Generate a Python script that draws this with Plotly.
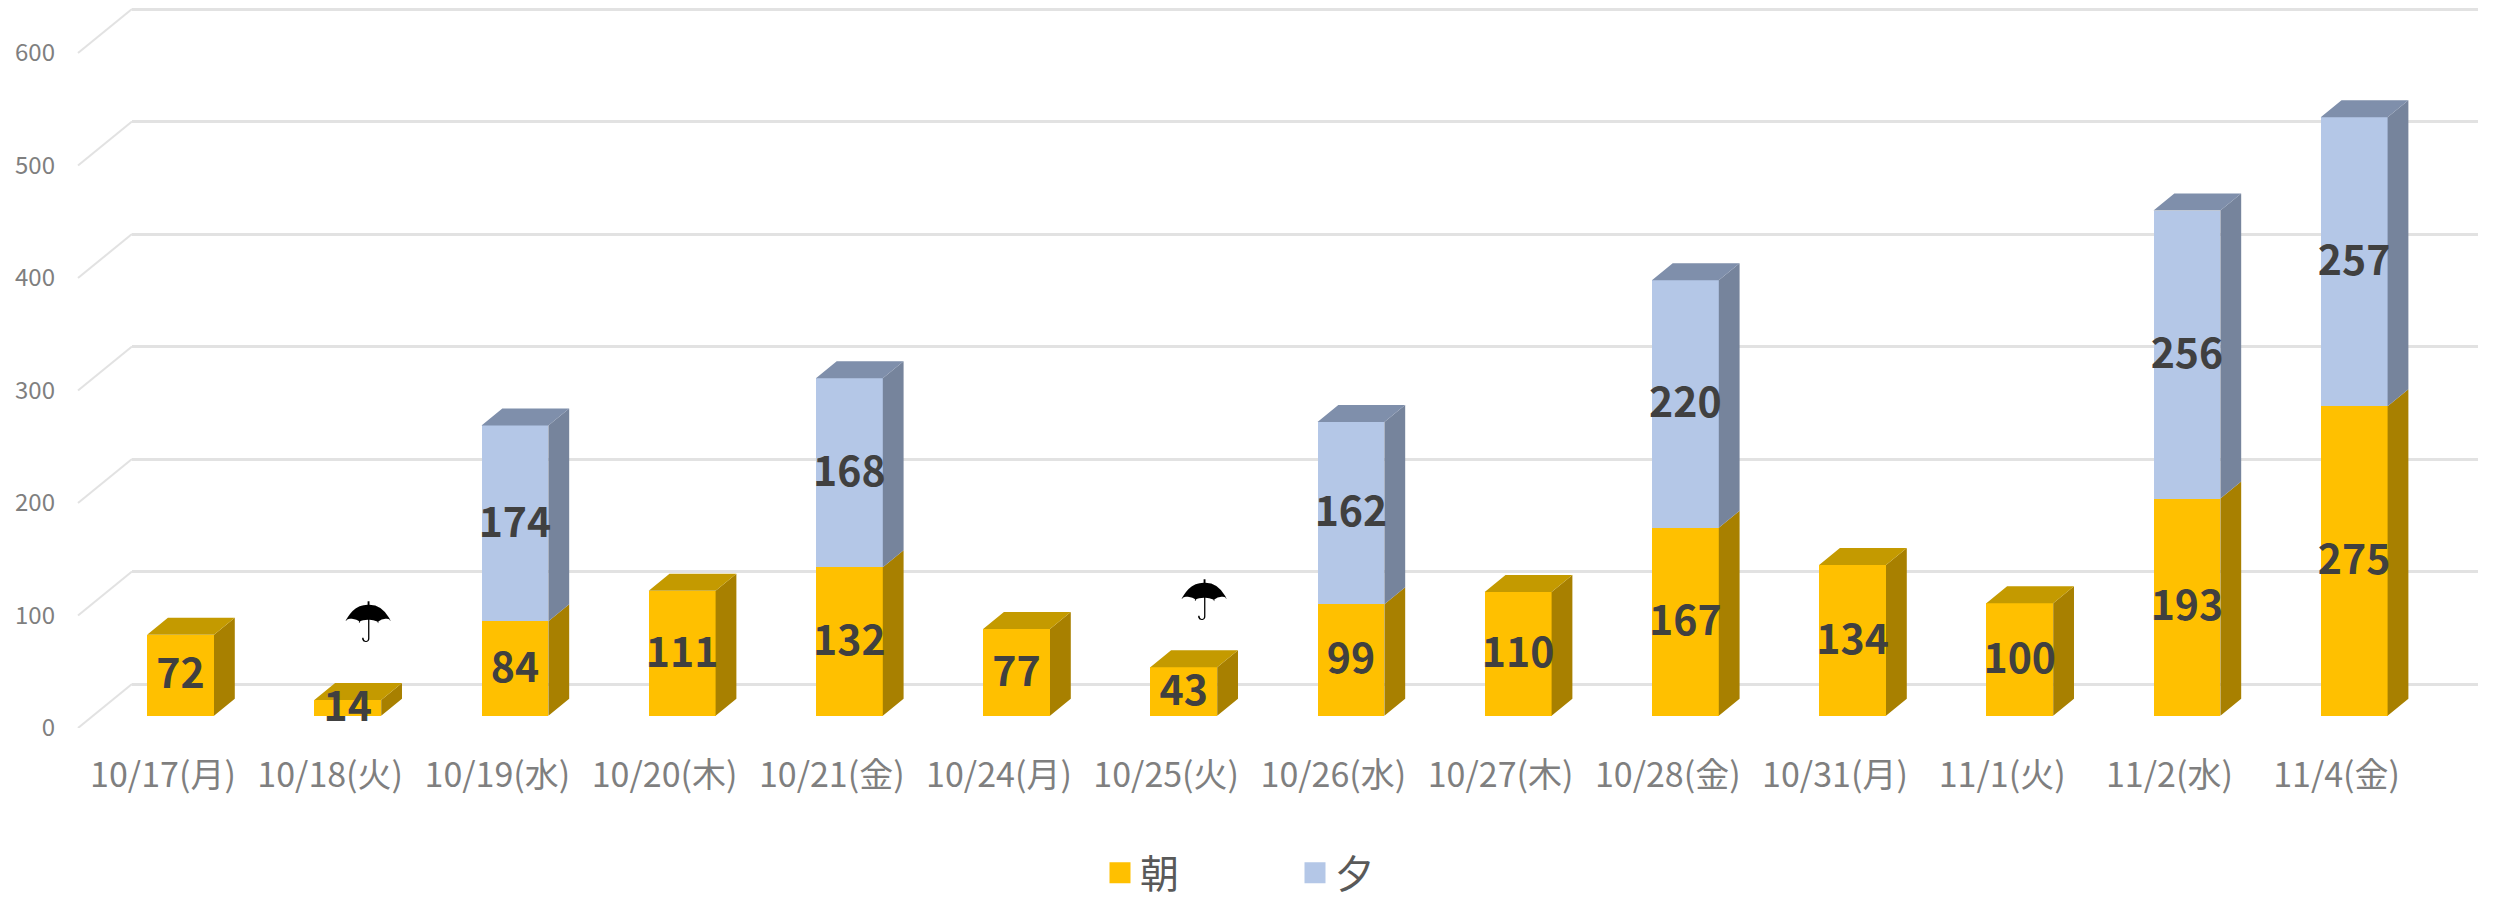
import plotly.graph_objects as go

categories = ["10/17(月)", "10/18(火)", "10/19(水)", "10/20(木)", "10/21(金)", "10/24(月)", "10/25(火)",
              "10/26(水)", "10/27(木)", "10/28(金)", "10/31(月)", "11/1(火)", "11/2(水)", "11/4(金)"]
morning = [72, 14, 84, 111, 132, 77, 43, 99, 110, 167, 134, 100, 193, 275]
evening = [0, 0, 174, 0, 168, 0, 0, 162, 0, 220, 0, 0, 256, 257]
rain_days = [("10/18(火)", 0.12, 68.5), ("10/25(火)", 0.12, 59.5)]

FONT = "Noto Sans CJK JP"
ORANGE, ORANGE_TOP, ORANGE_SIDE = "#FFC000", "#C49A00", "#A88000"
BLUE, BLUE_TOP, BLUE_SIDE = "#B4C7E7", "#7F8FAB", "#76849C"
GRID = "#E2E2E2"

# Oblique projection of the 3D chart, in axis units
W, H, M_L, M_R, M_T, M_B = 2494, 903, 132, 16, 0, 175
PX_X = 167.2                # pixels per category
PX_Y = 1.125                # pixels per unit of value
X0 = (M_L - 163) / PX_X     # left end of the x range
X1 = (W - M_R - 163) / PX_X
FULL_DX, FULL_DY = 54 / PX_X, 44 / PX_Y   # whole floor depth
D_FRONT, D_BACK = 0.28, 0.665             # bar depth within the floor
BAR_SHIFT = 0.105                         # bars sit right of their axis label
BAR_W = 0.40
Y_TOP = (H - M_B) / PX_Y
LABEL_DROP = 2.7            # optical centring of the value labels

x_front = [i + BAR_SHIFT for i in range(len(categories))]
b0 = FULL_DY * D_FRONT
side_dx = FULL_DX * (D_BACK - D_FRONT)
side_dy = FULL_DY * (D_BACK - D_FRONT)


def side_polys(vals, bases):
    xs, ys = [], []
    for xc, v, b in zip(x_front, vals, bases):
        if v <= 0:
            continue
        r = xc + BAR_W / 2
        xs += [r, r + side_dx, r + side_dx, r, r, None]
        ys += [b, b + side_dy, b + v + side_dy, b + v, b, None]
    return xs, ys


def top_polys(tops, keep):
    xs, ys = [], []
    for xc, t, k in zip(x_front, tops, keep):
        if not k:
            continue
        l, r = xc - BAR_W / 2, xc + BAR_W / 2
        xs += [l, r, r + side_dx, l + side_dx, l, None]
        ys += [t, t, t + side_dy, t + side_dy, t, None]
    return xs, ys


base_m = [b0] * len(morning)
base_e = [b0 + m for m in morning]
top_m = [b0 + m for m in morning]
top_e = [b0 + m + e for m, e in zip(morning, evening)]

fig = go.Figure()

# carries the back wall axis with its gridlines
fig.add_trace(go.Scatter(x=[None], y=[None], yaxis="y", showlegend=False, hoverinfo="skip"))

fig.add_trace(go.Bar(x=x_front, y=morning, base=base_m, width=BAR_W, marker=dict(color=ORANGE, line_width=0),
                     yaxis="y2", showlegend=False, name="朝"))
fig.add_trace(go.Bar(x=x_front, y=evening, base=base_e, width=BAR_W, marker=dict(color=BLUE, line_width=0),
                     yaxis="y2", showlegend=False, name="夕"))

for (xs, ys), col in [(side_polys(morning, base_m), ORANGE_SIDE),
                      (side_polys(evening, base_e), BLUE_SIDE),
                      (top_polys(top_m, [e == 0 for e in evening]), ORANGE_TOP),
                      (top_polys(top_e, [e > 0 for e in evening]), BLUE_TOP)]:
    fig.add_trace(go.Scatter(x=xs, y=ys, mode="lines", fill="toself", fillcolor=col, line=dict(width=0, color=col),
                             yaxis="y2", showlegend=False, hoverinfo="skip"))

label_font = dict(family=FONT, size=41, color="#404040", weight="bold")
for vals, bases in [(morning, base_m), (evening, base_e)]:
    pts = [(x, b + v / 2 - LABEL_DROP, v) for x, b, v in zip(x_front, bases, vals) if v > 0]
    fig.add_trace(go.Scatter(x=[p[0] for p in pts], y=[p[1] for p in pts], text=[str(p[2]) for p in pts],
                             mode="text", textposition="middle center", textfont=label_font,
                             yaxis="y2", showlegend=False, cliponaxis=False, hoverinfo="skip"))

# legend entries
for name, col in [("朝", ORANGE), ("夕", BLUE)]:
    fig.add_trace(go.Scatter(x=[None], y=[None], mode="markers", name=name, yaxis="y2",
                             marker=dict(symbol="square", size=16, color=col, line=dict(color=col, width=5))))

# slanted floor and wall lines left of the back wall
paper_dx = FULL_DX * PX_X / (W - M_L - M_R)
shapes = []
for v in range(0, 700, 100):
    shapes.append(dict(type="line", xref="paper", yref="y2", layer="below",
                       x0=-paper_dx, y0=v, x1=0, y1=v + FULL_DY,
                       line=dict(color=GRID, width=2)))

annotations = []
for cat, dx, h in rain_days:
    i = categories.index(cat)
    annotations.append(dict(x=x_front[i] + dx, y=b0 + morning[i] + h, xref="x", yref="y2", text="☂", showarrow=False,
                            font=dict(family="DejaVu Sans", size=56, color="#000000")))

fig.update_layout(
    width=W, height=H, margin=dict(l=M_L, r=M_R, t=M_T, b=M_B, autoexpand=False),
    paper_bgcolor="#FFFFFF", plot_bgcolor="rgba(0,0,0,0)",
    barmode="overlay", bargap=0,
    xaxis=dict(range=[X0, X1], tickmode="array", tickvals=list(range(len(categories))), ticktext=categories,
               showgrid=False, zeroline=False, showline=False, ticks="", ticklabelstandoff=24,
               tickangle=0, tickfont=dict(family=FONT, size=34, color="#7F7F7F")),
    yaxis=dict(range=[-FULL_DY, Y_TOP - FULL_DY], tickmode="array", tickvals=list(range(0, 700, 100)),
               showgrid=True, gridcolor=GRID, gridwidth=3, zeroline=False, showticklabels=False,
               showline=False, ticks=""),
    yaxis2=dict(range=[0, Y_TOP], overlaying="y", side="left", tickmode="array", tickvals=list(range(0, 700, 100)),
                showgrid=False, zeroline=False, showline=False, ticks="", ticklabelstandoff=76,
                tickfont=dict(family=FONT, size=24, color="#7F7F7F")),
    legend=dict(orientation="h", x=(1100 - M_L) / (W - M_L - M_R), xanchor="left", y=(H - M_B - 873) / (H - M_B),
                yanchor="middle", font=dict(family=FONT, size=39, color="#595959"),
                entrywidth=150, entrywidthmode="pixels", itemclick=False, itemdoubleclick=False,
                bgcolor="rgba(0,0,0,0)"),
    shapes=shapes, annotations=annotations, showlegend=True,
)

fig.write_html("out.html", post_script="document.body.style.margin='0';", config={"displayModeBar": False})
